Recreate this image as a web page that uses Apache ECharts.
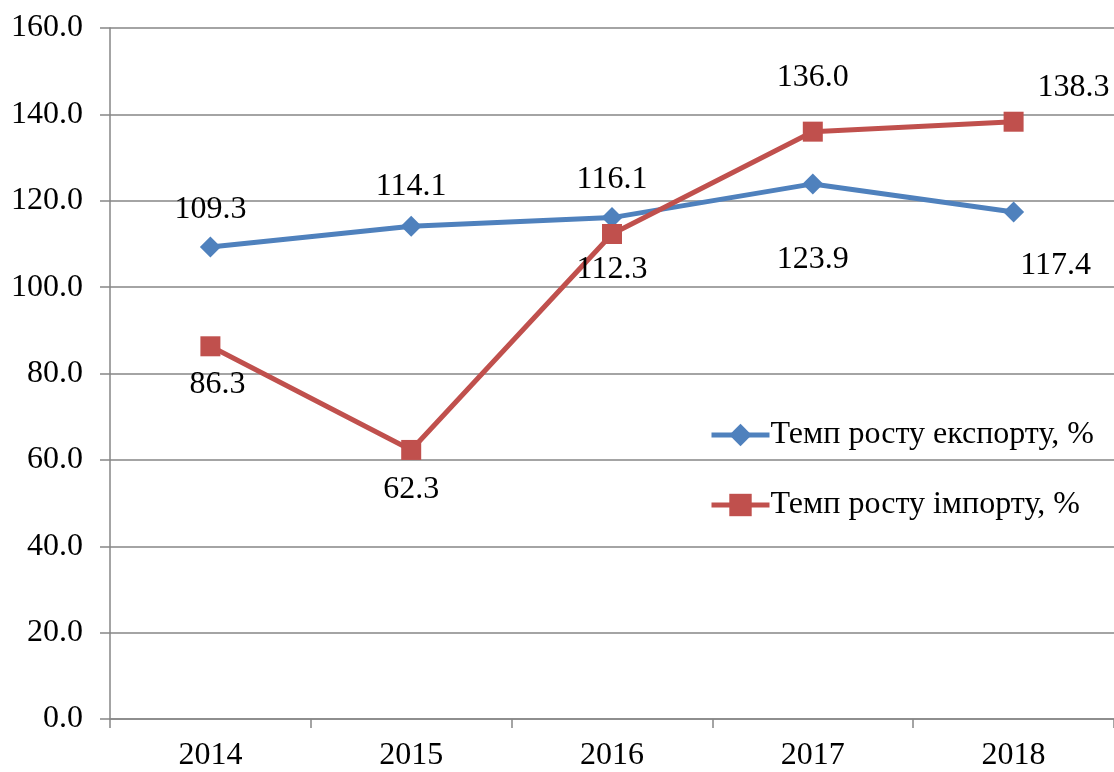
<!DOCTYPE html>
<html>
<head>
<meta charset="utf-8">
<script src="https://cdn.jsdelivr.net/npm/echarts@6/dist/echarts.min.js"></script>
<style>
  html, body { margin: 0; padding: 0; background: #fff; }
  #chart { width: 1114px; height: 772px; }
</style>
</head>
<body>
<div id="chart"></div>
<script>
const years = ['2014', '2015', '2016', '2017', '2018'];
const exportGrowth = [109.3, 114.1, 116.1, 123.9, 117.4];
const importGrowth = [86.3, 62.3, 112.3, 136.0, 138.3];
const exportName = 'Темп росту експорту, %';
const importName = 'Темп росту імпорту, %';

// label offsets from each marker, in px
const exportOffsets = [[0, -37], [0, -40], [0, -38], [0, 76], [42, 54]];
const importOffsets = [[7, 38], [0, 40], [0, 36], [0, -54], [60, -34]];

const font = 'Liberation Serif';

function withLabels(values, offsets) {
    let out = [];
    for (let i = 0; i < values.length; i++) {
        out.push({
            value: values[i],
            label: {
                show: true,
                position: 'inside',
                offset: offsets[i],
                formatter: (p) => p.value.toFixed(1),
                color: '#000',
                fontFamily: font,
                fontSize: 32
            }
        });
    }
    return out;
}

let dom = document.getElementById('chart');
let myChart = echarts.init(dom, null, { renderer: 'canvas' });

option = {
    animation: false,
    backgroundColor: '#fff',
    grid: { left: 110, top: 28, width: 1010, height: 692, containLabel: false },
    legend: {
        orient: 'vertical',
        left: 704,
        top: 414,
        itemWidth: 58,
        itemHeight: 28,
        itemGap: 38,
        lineStyle: { width: 5 },
        textStyle: { fontFamily: font, fontSize: 32, color: '#000', padding: [0, 0, 0, -4] },
        data: [exportName, importName]
    },
    xAxis: {
        type: 'category',
        data: years,
        boundaryGap: true,
        axisLine: { lineStyle: { color: '#868686', width: 1.5 } },
        axisTick: { show: true, length: 9, lineStyle: { color: '#868686', width: 1.5 } },
        axisLabel: { fontFamily: font, fontSize: 32, color: '#000', margin: 21 }
    },
    yAxis: {
        type: 'value',
        min: 0,
        max: 160,
        interval: 20,
        axisLine: { show: true, lineStyle: { color: '#868686', width: 1.5 } },
        axisTick: { show: true, length: 10, lineStyle: { color: '#868686', width: 1.5 } },
        splitLine: { lineStyle: { color: '#868686', width: 1.5 } },
        axisLabel: {
            fontFamily: font, fontSize: 32, color: '#000', margin: 27,
            formatter: (v) => v.toFixed(1)
        }
    },
    series: [
        {
            name: exportName,
            type: 'line',
            data: withLabels(exportGrowth, exportOffsets),
            color: '#4F81BD',
            lineStyle: { width: 5 },
            symbol: 'diamond',
            symbolSize: 21,
            itemStyle: { color: '#4F81BD' },
            z: 3
        },
        {
            name: importName,
            type: 'line',
            data: withLabels(importGrowth, importOffsets),
            color: '#C0504D',
            lineStyle: { width: 5 },
            symbol: 'rect',
            symbolSize: 20,
            itemStyle: { color: '#C0504D' },
            z: 4
        }
    ]
};

myChart.setOption(option);
</script>
</body>
</html>
